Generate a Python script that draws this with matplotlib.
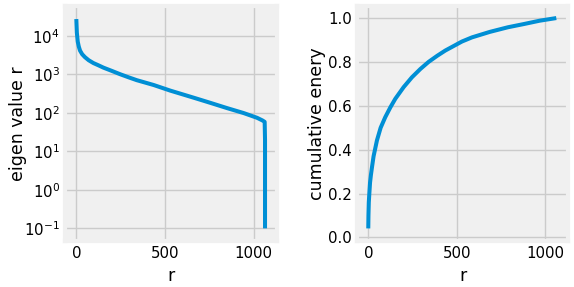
import matplotlib.pyplot as plt

plt.style.use('fivethirtyeight')
plt.rcParams['font.family'] = 'DejaVu Sans'

# eigen values (r, value)
eig_r = [0, 3, 8, 14, 21, 33, 49, 70, 96, 125, 153, 200, 247, 295, 341, 436,
         530, 570, 664, 757, 850, 944, 1019, 1050, 1062, 1064, 1064]
eig_val = [27000, 12000, 7000, 5200, 4100, 3300, 2760, 2300, 1950, 1700,
           1480, 1220, 1000, 830, 700, 525, 375, 330, 244, 180, 132, 98, 74,
           63, 58, 20, 0.1]

# cumulative energy
cum_r = [0, 1, 3, 6, 10, 15, 21, 30, 49, 70, 96, 125, 153, 200, 247, 295, 341,
         390, 436, 530, 587, 688, 790, 882, 970, 1064]
cum_val = [0.041, 0.10, 0.16, 0.20, 0.25, 0.285, 0.32, 0.37, 0.442, 0.50,
           0.548, 0.593, 0.632, 0.685, 0.73, 0.768, 0.80, 0.828, 0.852, 0.893,
           0.912, 0.937, 0.958, 0.973, 0.988, 1.0]

fig = plt.figure(figsize=(5.74, 2.87), dpi=100, facecolor='white')
ax1 = fig.add_axes([0.1138, 0.1613, 0.3683, 0.8178])
ax2 = fig.add_axes([0.6225, 0.1613, 0.3676, 0.8178])

ax1.plot(eig_r, eig_val, lw=2.9)
ax1.set_yscale('log')
ax1.set_ylim(10 ** -1.32, 10 ** 4.77)
ax1.set_xlim(-62, 1130)
ax1.set_xticks([0, 500, 1000])
ax1.set_xlabel('r')
ax1.set_ylabel('eigen value r', labelpad=-2)

ax2.plot(cum_r, cum_val, lw=2.9)
ax2.set_ylim(-0.015, 1.055)
ax2.set_xlim(-62, 1132)
ax2.set_xticks([0, 500, 1000])
ax2.set_xlabel('r')
ax2.set_ylabel('cumulative enery', labelpad=1)

for ax in (ax1, ax2):
    ax.grid(True, lw=1, color='#cbcbcb')
    ax.tick_params(length=0, labelsize=10.8, pad=4)
    ax.xaxis.label.set_size(12.5)
    ax.yaxis.label.set_size(12.5)

fig.savefig('out.png', facecolor='white')
